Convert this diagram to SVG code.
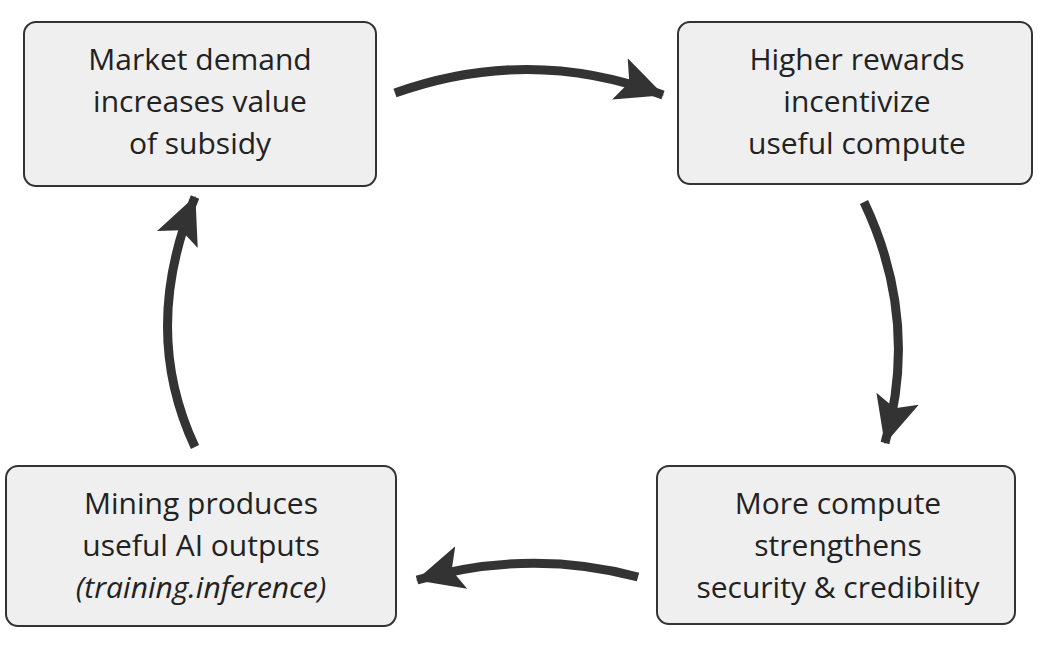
<svg xmlns="http://www.w3.org/2000/svg" width="1056" height="646" viewBox="0 0 1056 646">
<style>
.box{fill:#efefef;stroke:#333;stroke-width:2}
.t{font-family:"Open Sans","Noto Sans",sans-serif;font-size:30px;fill:#222;text-anchor:middle}
.arr{fill:none;stroke:#333;stroke-width:9;marker-end:url(#ah)}
</style>
<defs>
<marker id="ah" markerUnits="userSpaceOnUse" markerWidth="48" markerHeight="48" viewBox="0 0 48 48" refX="46" refY="24" orient="auto">
<path d="M0,2 L47,24 L0,46 L10,24 Z" fill="#333"/>
</marker>
</defs>
<rect width="1056" height="646" fill="#fff"/>
<g id="connectors">
<path class="arr" d="M395,93 Q530,45 663,95"/>
<path class="arr" d="M864,202 Q920,320 885,443"/>
<path class="arr" d="M638,577 Q530,548 417,580"/>
<path class="arr" d="M195,447 Q140,330 195,197"/>
</g>
<g id="n1"><rect class="box" x="24" y="22" width="352" height="164" rx="12"/>
<text class="t" x="200" y="70">Market demand</text><text class="t" x="200" y="112">increases value</text><text class="t" x="200" y="154">of subsidy</text></g>
<g id="n2"><rect class="box" x="678" y="22" width="354" height="162" rx="12"/>
<text class="t" x="857" y="70">Higher rewards</text><text class="t" x="857" y="112">incentivize</text><text class="t" x="857" y="154">useful compute</text></g>
<g id="n3"><rect class="box" x="657" y="466" width="358" height="158" rx="12"/>
<text class="t" x="838" y="514">More compute</text><text class="t" x="838" y="556">strengthens</text><text class="t" x="838" y="598">security &amp; credibility</text></g>
<g id="n4"><rect class="box" x="6" y="466" width="390" height="160" rx="12"/>
<text class="t" x="201" y="514">Mining produces</text><text class="t" x="201" y="556">useful AI outputs</text><text class="t" x="201" y="598" font-style="italic">(training.inference)</text></g>
</svg>
